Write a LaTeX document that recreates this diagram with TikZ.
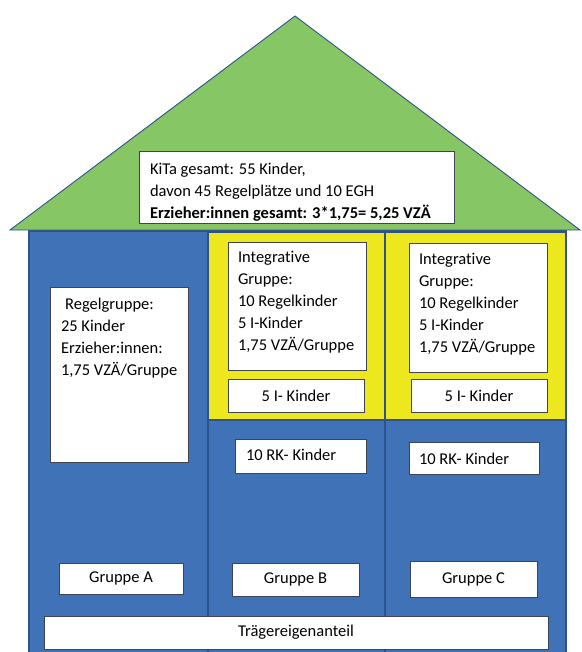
\documentclass[tikz,border=0pt]{standalone}
\usepackage{fontspec}
\setmainfont{Carlito}[Ligatures=NoCommon]
\definecolor{hblue}{RGB}{64,114,184}
\definecolor{hline}{RGB}{47,82,143}
\definecolor{hgreen}{RGB}{135,198,100}
\definecolor{hyellow}{RGB}{237,231,30}
\definecolor{hbox}{RGB}{62,68,80}
\newcommand\rectnode[6][]{\node[#1, minimum width={(#5-#3)*1pt}, minimum height={(#6-#4)*1pt}] (#2) at ({(#3+#5)/2},{(#4+#6)/2}) {};}
\newcommand\rectlabel[7][]{\node[#1, minimum width={(#5-#3)*1pt}, minimum height={(#6-#4)*1pt}] (#2) at ({(#3+#5)/2},{(#4+#6)/2}) {#7};}
\tikzset{
  area/.style={inner sep=0pt, outer sep=0pt, line width=1.2pt, draw=hline},
  box/.style={fill=white, draw=hbox, line width=0.8pt, inner sep=0pt, outer sep=0pt, font=\fontsize{16.5}{20}\selectfont},
  txt/.style={inner sep=0pt, outer sep=0pt, align=left, anchor=north west, font=\fontsize{16.5}{21.8}\selectfont},
  divider/.style={draw=hline, line width=1.2pt},
  roof/.style={fill=hgreen, draw=hline, line width=0.9pt, line join=miter}
}
\begin{document}
\begin{tikzpicture}[x=1pt,y=-1pt]
\useasboundingbox (0,0) rectangle (581,652);
% body
\rectnode[area, fill=hblue]{body}{29}{231}{566}{658}
\rectnode[area, fill=hyellow]{yelB}{208}{232}{385}{420}
\rectnode[area, fill=hyellow]{yelC}{385}{232}{566}{420}
\coordinate (d1t) at (208,231); \coordinate (d1b) at (208,658);
\coordinate (d2t) at (385,231); \coordinate (d2b) at (385,658);
\draw[divider] (d1t) -- (d1b);
\draw[divider] (d2t) -- (d2b);
% roof
\coordinate (rl) at (10,230); \coordinate (ra) at (295,16); \coordinate (rr) at (580,230);
\draw[roof] (rl) -- (ra) -- (rr) -- cycle;
% KiTa box
\rectnode[box]{kita}{139}{151}{454}{223}
\node[txt] (kitaT) at (150,163.5) {KiTa gesamt: 55 Kinder,\\davon 45 Regelplätze und 10 EGH\\\textbf{Erzieher:innen gesamt: 3*1,75= 5,25 VZÄ}};
% Gruppe A
\rectnode[box]{regel}{50}{287}{188}{462}
\node[txt] (regelT) at (61,298.5) {\hspace*{0.25em}Regelgruppe:\\25 Kinder\\Erzieher:innen:\\1,75 VZÄ/Gruppe};
% Gruppe B
\rectnode[box]{intB}{228}{242}{366}{370}
\node[txt] (intBT) at (238,251.5) {Integrative\\Gruppe:\\10 Regelkinder\\5 I-Kinder\\1,75 VZÄ/Gruppe};
\rectlabel[box]{ikB}{228}{379}{364}{412}{5 I- Kinder}
\rectnode[box]{rkB}{235}{439}{366}{473}
\node[txt, anchor=west] (rkBT) at (246,455) {10 RK- Kinder};
% Gruppe C
\rectnode[box]{intC}{409}{243}{547}{372}
\node[txt] (intCT) at (419,253.5) {Integrative\\Gruppe:\\10 Regelkinder\\5 I-Kinder\\1,75 VZÄ/Gruppe};
\rectlabel[box]{ikC}{411}{379}{547}{412}{5 I- Kinder}
\rectnode[box]{rkC}{409}{442}{539}{474}
\node[txt, anchor=west] (rkCT) at (419,458.5) {10 RK- Kinder};
% group labels
\rectlabel[box]{gA}{59}{563}{183}{594}{Gruppe A}
\rectlabel[box]{gB}{232}{563}{359}{596}{Gruppe B}
\rectlabel[box]{gC}{410}{561}{537}{597}{Gruppe C}
\rectlabel[box]{traeger}{44}{616}{548}{649}{Trägereigenanteil}
\end{tikzpicture}
\end{document}
